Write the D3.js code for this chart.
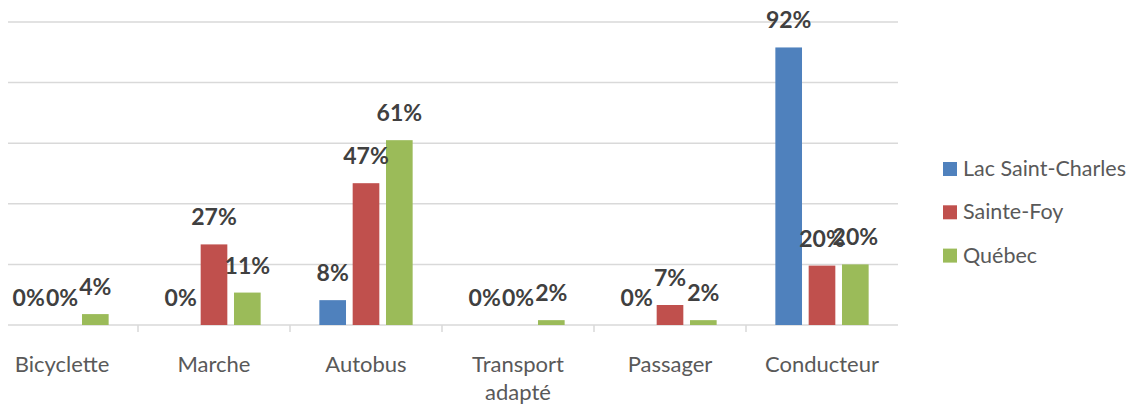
<!DOCTYPE html>
<html>
<head>
<meta charset="utf-8">
<script src="https://cdn.jsdelivr.net/npm/d3@7"></script>
<style>
  body { margin: 0; background: #fff; }
  svg { display: block; font-family: Lato, "Open Sans", sans-serif; }
</style>
</head>
<body>
<svg id="chart" width="1127" height="406"></svg>
<script>
// categories and series
var categories = ["Bicyclette", "Marche", "Autobus", "Transport adapté", "Passager", "Conducteur"];
var series = ["Lac Saint-Charles", "Sainte-Foy", "Québec"];
var colors = ["#4F81BD", "#C0504D", "#9BBB59"];

// values in %, one array per series
var lacSaintCharles = [0, 0, 8.2, 0, 0, 91.6];
var sainteFoy = [0, 26.6, 46.8, 0, 6.6, 19.6];
var quebec = [3.6, 10.7, 61, 1.6, 1.6, 20];

var yTicks = [0, 20, 40, 60, 80, 100];

var values = [lacSaintCharles, sainteFoy, quebec];

var margin = { top: 22, left: -14, right: 229, bottom: 81 },
    width = 1127 - margin.left - margin.right,
    height = 406 - margin.top - margin.bottom;

var svg = d3.select("#chart");
var root = svg.append("g")
    .attr("transform", "translate(" + margin.left + "," + margin.top + ")");

var x0 = d3.scaleBand().domain(categories).range([0, width]);
var x1 = d3.scaleBand().domain(series).range([0, 93.3]).paddingInner(0.2);
var groupOffset = (x0.bandwidth() - 93.3) / 2;
var y = d3.scaleLinear().domain([0, 100]).range([height, 0]);

// gridlines (visible part starts a bit right of the cropped edge)
root.append("g")
    .selectAll("line")
    .data(yTicks)
    .join("line")
    .attr("x1", 22)
    .attr("x2", width)
    .attr("y1", function (d) { return y(d); })
    .attr("y2", function (d) { return y(d); })
    .attr("stroke", "#d9d9d9")
    .attr("stroke-width", 1.5);

// tick marks between categories
root.append("g")
    .selectAll("line")
    .data(categories.slice(1))
    .join("line")
    .attr("x1", function (d) { return x0(d); })
    .attr("x2", function (d) { return x0(d); })
    .attr("y1", height)
    .attr("y2", height + 7)
    .attr("stroke", "#d9d9d9")
    .attr("stroke-width", 1.5);

// category labels
var catLabels = root.append("g")
    .selectAll("text")
    .data(categories)
    .join("text")
    .attr("x", function (d) { return x0(d) + x0.bandwidth() / 2; })
    .attr("y", height + 47)
    .attr("text-anchor", "middle")
    .attr("fill", "#595959")
    .style("font-size", "22px");

catLabels.each(function (d) {
    var parts = d === "Transport adapté" ? ["Transport", "adapté"] : [d];
    var t = d3.select(this);
    parts.forEach(function (p, i) {
        t.append("tspan")
            .attr("x", x0(d) + x0.bandwidth() / 2)
            .attr("dy", i === 0 ? 0 : 28)
            .text(p);
    });
});

// bars
var bars = [];
series.forEach(function (s, si) {
    categories.forEach(function (c, ci) {
        bars.push({ cat: c, series: s, si: si, value: values[si][ci] });
    });
});

root.append("g")
    .selectAll("rect")
    .data(bars)
    .join("rect")
    .attr("x", function (d) { return x0(d.cat) + groupOffset + x1(d.series); })
    .attr("y", function (d) { return y(d.value); })
    .attr("width", x1.bandwidth())
    .attr("height", function (d) { return height - y(d.value); })
    .attr("fill", function (d) { return colors[d.si]; });

// value labels
root.append("g")
    .selectAll("text")
    .data(bars)
    .join("text")
    .attr("x", function (d) { return x0(d.cat) + groupOffset + x1(d.series) + x1.bandwidth() / 2; })
    .attr("y", function (d) { return y(d.value) - 19; })
    .attr("text-anchor", "middle")
    .attr("fill", "#404040")
    .style("font-size", "23px")
    .style("font-weight", "bold")
    .text(function (d) { return Math.round(d.value) + "%"; });

// legend
var legend = svg.append("g")
    .attr("transform", "translate(943,162)")
    .selectAll("g")
    .data(series)
    .join("g")
    .attr("transform", function (d, i) { return "translate(0," + i * 43.3 + ")"; });

legend.append("rect")
    .attr("width", 14)
    .attr("height", 14)
    .attr("fill", function (d, i) { return colors[i]; });

legend.append("text")
    .attr("x", 20)
    .attr("y", 14)
    .attr("fill", "#595959")
    .style("font-size", "21.5px")
    .text(function (d) { return d; });
</script>
</body>
</html>
